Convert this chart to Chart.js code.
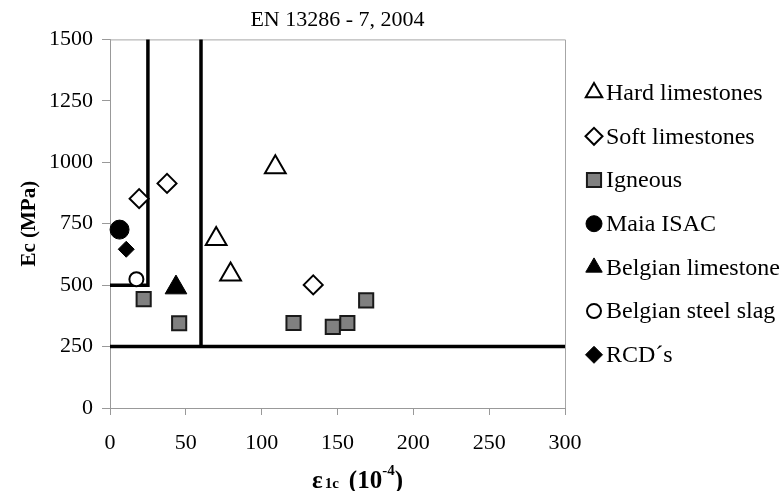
<!DOCTYPE html>
<html><head><meta charset="utf-8">
<script src="https://cdn.jsdelivr.net/npm/chart.js@4/dist/chart.umd.min.js"></script>
<style>html,body{margin:0;padding:0;background:#fff}#wrap{width:782px;height:491px}</style>
</head><body><div id="wrap"><canvas id="c" width="782" height="491"></canvas></div>
<script>
// ---- data ----
const chartTitle = 'EN 13286 - 7, 2004';
const yAxisTitle = 'Ec (MPa)';
const xAxisTitleParts = ['ε', '1c', '(10', '-4', ')'];
const xTicks = [0, 50, 100, 150, 200, 250, 300];
const yTicks = [0, 250, 500, 750, 1000, 1250, 1500];
const seriesNames = ['Hard limestones', 'Soft limestones', 'Igneous', 'Maia ISAC', 'Belgian limestone', 'Belgian steel slag', 'RCD´s'];

const hardLimestonesX = [109, 70, 79.5];
const hardLimestonesY = [980, 688, 543];
const softLimestonesX = [19.2, 37.6, 134];
const softLimestonesY = [852, 914, 501];
const igneousX = [22.2, 45.6, 121, 156.5, 146.9, 168.9];
const igneousY = [443, 345, 346, 346, 330, 438];
const maiaIsacX = [6.3];
const maiaIsacY = [726];
const belgianLimestoneX = [43.5];
const belgianLimestoneY = [490];
const belgianSteelSlagX = [17.4];
const belgianSteelSlagY = [524];
const rcdX = [10.7];
const rcdY = [646];

// limit lines (EN 13286-7 classification zones)
const limitA_X = [0, 25, 25];
const limitA_Y = [500, 500, 1500];
const limitB_X = [60, 60];
const limitB_Y = [1500, 250];
const limitC_X = [0, 300];
const limitC_Y = [250, 250];

const pts = (xs, ys) => xs.map((x, i) => ({x, y: ys[i]}));
const SERIF = '"Liberation Serif", "Times New Roman", serif';

const styles = [
  {pointStyle: 'triangle', radius: 12, bg: '#ffffff', bc: '#000', bw: 2, lr: 9.5},
  {pointStyle: 'rectRot', radius: 9.5, bg: '#ffffff', bc: '#000', bw: 2, lr: 8.5},
  {pointStyle: 'rect', radius: 10, bg: '#808080', bc: '#1a1a1a', bw: 2, lr: 10},
  {pointStyle: 'circle', radius: 9.5, bg: '#000', bc: '#000', bw: 1, lr: 8},
  {pointStyle: 'triangle', radius: 12.5, bg: '#000', bc: '#000', bw: 1, lr: 9.5},
  {pointStyle: 'circle', radius: 7, bg: '#ffffff', bc: '#000', bw: 2, lr: 7},
  {pointStyle: 'rectRot', radius: 8, bg: '#000', bc: '#000', bw: 1, lr: 8.5}
];
const seriesData = [
  pts(hardLimestonesX, hardLimestonesY),
  pts(softLimestonesX, softLimestonesY),
  pts(igneousX, igneousY),
  pts(maiaIsacX, maiaIsacY),
  pts(belgianLimestoneX, belgianLimestoneY),
  pts(belgianSteelSlagX, belgianSteelSlagY),
  pts(rcdX, rcdY)
];

const datasets = seriesNames.map((name, i) => ({
  type: 'scatter',
  label: name,
  data: seriesData[i],
  pointStyle: styles[i].pointStyle,
  pointRadius: styles[i].radius,
  pointHoverRadius: styles[i].radius,
  backgroundColor: styles[i].bg,
  borderColor: styles[i].bc,
  pointBorderWidth: styles[i].bw,
  borderWidth: styles[i].bw,
  order: 1,
  clip: false
}));
[[limitA_X, limitA_Y], [limitB_X, limitB_Y], [limitC_X, limitC_Y]].forEach(([xs, ys]) => {
  datasets.push({
    type: 'line', label: '', data: pts(xs, ys), showLine: true,
    borderColor: '#000', borderWidth: 3.5, pointRadius: 0, pointHoverRadius: 0,
    fill: false, tension: 0, order: 10, clip: 4
  });
});

const frame = {
  id: 'frame',
  beforeDatasetsDraw(chart) {
    const {ctx, chartArea: a} = chart;
    ctx.save();
    ctx.strokeStyle = '#a6a6a6';
    ctx.lineWidth = 1;
    ctx.beginPath();
    ctx.moveTo(a.left, a.top + 0.5);
    ctx.lineTo(a.right + 0.5, a.top + 0.5);
    ctx.lineTo(a.right + 0.5, a.bottom);
    ctx.stroke();
    ctx.restore();
  }
};

const sideLegend = {
  id: 'sideLegend',
  afterDraw(chart) {
    const {ctx, chartArea: a} = chart;
    const dy = 43.7;
    const y0 = (a.top + a.bottom) / 2 - 3 * dy;
    const mx = a.right + 29, tx = a.right + 41;
    ctx.save();
    seriesNames.forEach((name, i) => {
      const y = y0 + i * dy;
      const s = styles[i];
      ctx.fillStyle = s.bg;
      ctx.strokeStyle = s.bc;
      ctx.lineWidth = s.bw;
      Chart.helpers.drawPoint(ctx, {pointStyle: s.pointStyle, radius: s.lr, rotation: 0, borderWidth: s.bw}, mx, y);
      ctx.fillStyle = '#000';
      ctx.font = '24px ' + SERIF;
      ctx.textBaseline = 'middle';
      ctx.textAlign = 'left';
      ctx.fillText(name, tx, y + 1);
    });
    ctx.restore();
  }
};

const xTitle = {
  id: 'xTitle',
  afterDraw(chart) {
    const {ctx} = chart;
    const base = 488;
    let x = 312;
    ctx.save();
    ctx.fillStyle = '#000';
    ctx.textBaseline = 'alphabetic';
    ctx.textAlign = 'left';
    const big = 'bold 25px ' + SERIF, small = 'bold 15px ' + SERIF;
    ctx.font = big; ctx.fillText(xAxisTitleParts[0], x, base); x += ctx.measureText(xAxisTitleParts[0]).width + 2;
    ctx.font = small; ctx.fillText(xAxisTitleParts[1], x, base); x += ctx.measureText(xAxisTitleParts[1]).width + 10;
    ctx.font = big; ctx.fillText(xAxisTitleParts[2], x, base); x += ctx.measureText(xAxisTitleParts[2]).width;
    ctx.font = small; ctx.fillText(xAxisTitleParts[3], x, base - 13); x += ctx.measureText(xAxisTitleParts[3]).width;
    ctx.font = big; ctx.fillText(xAxisTitleParts[4], x, base);
    ctx.restore();
  }
};

new Chart(document.getElementById('c'), {
  data: {datasets},
  options: {
    responsive: false,
    animation: false,
    devicePixelRatio: 1,
    layout: {padding: {left: 0, right: 217, top: 1, bottom: 0}},
    plugins: {
      legend: {display: false},
      tooltip: {enabled: false},
      title: {
        display: true, text: chartTitle, fullSize: false,
        color: '#000', font: {family: SERIF, size: 22, weight: 'normal'},
        padding: {top: 6, bottom: 6}
      }
    },
    scales: {
      x: {
        type: 'linear', min: 0, max: 300,
        afterBuildTicks: s => { s.ticks = xTicks.map(v => ({value: v})); },
        afterFit: s => { s.height = 83; },
        ticks: {color: '#000', font: {family: SERIF, size: 22}, padding: 15, maxRotation: 0, callback: v => String(v)},
        grid: {drawOnChartArea: false, drawTicks: true, tickLength: 7, color: '#999'},
        border: {color: '#999', width: 1}
      },
      y: {
        type: 'linear', min: 0, max: 1500,
        afterBuildTicks: s => { s.ticks = yTicks.map(v => ({value: v})); },
        afterFit: s => { s.width = 110; },
        ticks: {color: '#000', font: {family: SERIF, size: 22}, padding: 9, callback: v => String(v)},
        grid: {drawOnChartArea: false, drawTicks: true, tickLength: 8, color: '#999'},
        border: {color: '#999', width: 1},
        title: {display: true, text: yAxisTitle, color: '#000', font: {family: SERIF, size: 21, weight: 'bold'}, padding: {top: 17, bottom: 0}}
      }
    }
  },
  plugins: [frame, sideLegend, xTitle]
});
</script>
</body></html>
